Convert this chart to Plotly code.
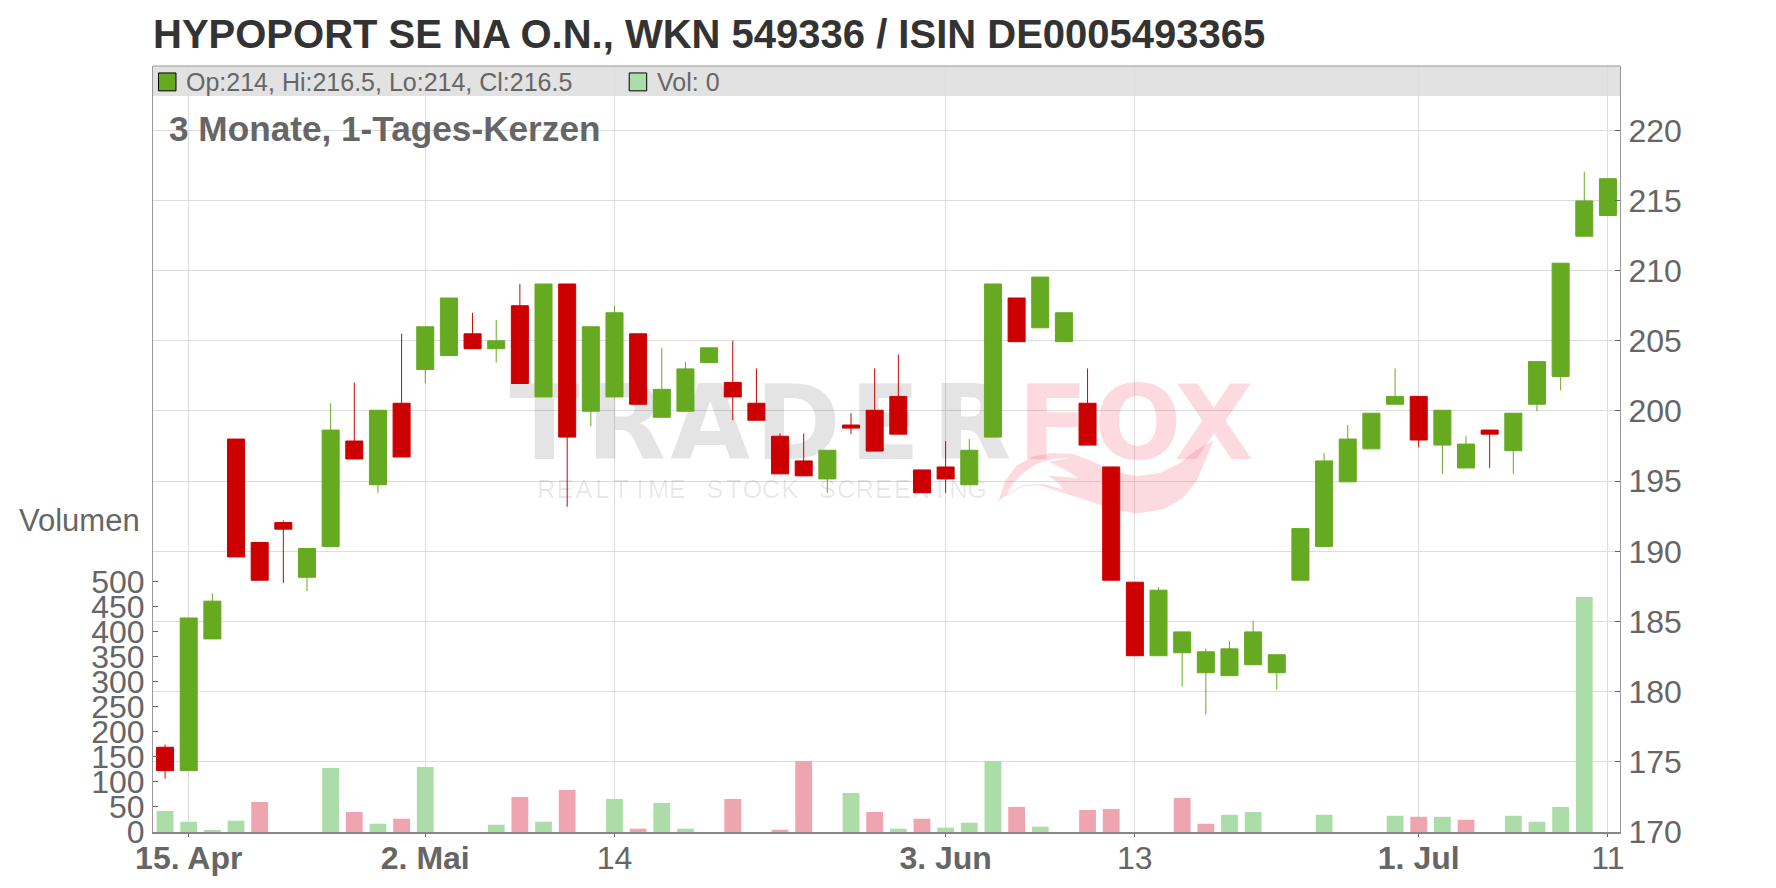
import plotly.graph_objects as go

W, H = 1776, 888
L, R, T, B = 152.5, 1620.4, 65.5, 836.2

opens  = [176.04,174.37,183.76,198.0,190.63,192.05,188.15,190.35,197.86,194.74,200.55,202.96,203.95,205.5,204.44,207.5,201.0,209.05,199.98,201.0,205.5,199.55,199.98,203.45,202.03,200.55,198.2,196.44,195.16,199.0,200.05,201.04,195.8,196.01,194.74,198.14,208.05,205.93,204.94,200.55,196.01,187.8,182.56,182.77,181.35,181.14,181.92,181.35,187.94,190.35,194.95,197.3,200.48,201.04,197.57,195.94,198.64,197.17,200.48,202.46,212.45,213.93]
highs  = [176.23,185.25,187.0,198.0,190.63,192.2,190.2,200.55,202.03,200.05,205.5,206.0,208.05,207.0,206.5,209.05,209.05,209.05,206.0,207.5,205.5,204.5,203.5,204.5,205.0,203.03,198.4,198.4,197.2,199.84,203.03,204.02,195.8,197.86,198.0,209.05,208.05,209.54,207.0,203.03,196.01,187.8,187.44,184.26,183.05,183.62,185.04,182.63,191.62,197.0,199.0,199.84,203.03,201.04,200.05,198.2,198.64,199.84,203.52,210.53,217.05,216.55]
lows   = [173.8,174.37,183.76,189.6,187.94,187.73,187.16,190.35,196.58,194.17,196.72,201.96,203.95,204.44,203.45,201.96,201.0,193.18,198.9,201.0,200.48,199.55,199.98,203.45,199.34,199.34,195.52,195.38,194.17,198.35,197.14,198.35,194.17,194.17,194.74,198.14,204.94,205.93,204.94,197.57,187.94,182.56,182.56,180.36,178.38,181.14,181.92,180.15,187.94,190.35,194.95,197.3,200.48,197.4,195.52,195.94,195.94,195.52,199.98,201.47,212.45,213.93]
closes = [174.37,185.25,186.45,189.6,187.94,191.58,190.2,198.64,196.58,200.05,196.72,206.0,208.05,204.44,205.0,201.96,209.05,198.14,206.0,207.0,200.48,201.54,203.0,204.5,201.0,199.34,195.52,195.38,197.2,198.78,197.14,198.35,194.17,195.16,197.2,209.05,204.94,209.54,207.0,197.57,187.94,182.56,187.23,184.26,182.84,183.05,184.26,182.63,191.62,196.44,198.0,199.84,201.04,197.93,200.05,197.64,198.35,199.84,203.52,210.53,214.97,216.55]
volumes = [42,20.5,2.6,22.5,60,0,0,127.6,40,16.5,26.5,129.6,0,0,14.5,70,20.5,84,0,66,6.6,58,6.6,0,66,0,4.6,141.5,0,78,40,6.6,26.5,8.6,18.5,141.5,50,10.6,0,44,46,0,0,68,16.5,34.4,40,0,0,34.4,0,0,32.4,30.4,30.4,24.5,0,32.4,20.5,50,469,0]
volume_up = [1,1,1,1,0,0,0,1,0,1,0,1,0,0,1,0,1,0,0,1,0,1,1,0,0,0,0,0,0,1,0,1,0,1,1,1,0,1,0,0,0,0,0,0,0,1,1,0,0,1,0,0,1,0,1,0,0,1,1,1,1,0]

x_tick_positions = [1, 11, 19, 33, 41, 53, 61]
x_tick_labels = ["<b>15. Apr</b>", "<b>2. Mai</b>", "14", "<b>3. Jun</b>", "13", "<b>1. Jul</b>", "11"]
price_ticks = [170,175,180,185,190,195,200,205,210,215,220]
volume_ticks = [0,50,100,150,200,250,300,350,400,450,500]

GREEN, RED = "#66AA22", "#CC0000"
VGREEN, VRED = "#ACDDA9", "#EFA5AF"
GRID, TXT = "#DDDDDD", "#666666"

X_RANGE = [-0.51, 61.51]
P_RANGE = [170, 170 + (B - T) / 14.12]
V_RANGE = [0, (B - T) / 0.504]

def px2x(px):
    return X_RANGE[0] + (px - L) / (R - L) * (X_RANGE[1] - X_RANGE[0])
def py2p(py):
    return P_RANGE[0] + (B - py) / (B - T) * (P_RANGE[1] - P_RANGE[0])
def fx(px):
    return (px - L) / (R - L)
def fy(py):
    return (B - py) / (B - T)

fig = go.Figure()

# --- watermark (bottom subplot) ---
WM_GRAY = "rgba(0,0,0,0.105)"
WM_PINK = "rgba(245,70,100,0.2)"
def wm_letters(chars, centers, y, size, color, family, bold=False):
    fig.add_trace(go.Scatter(
        x=[px2x(c) for c in centers], y=[py2p(y)] * len(chars),
        text=[f"<b>{c}</b>" if bold else c for c in chars],
        mode="text", textposition="middle center", hoverinfo="skip", showlegend=False,
        textfont=dict(family=family, size=size, color=color),
        cliponaxis=False, xaxis="x", yaxis="y"))

wm_letters("TRADER", [544, 626, 710, 798, 885, 972], 435, 103, WM_GRAY, "DejaVu Sans, sans-serif", True)
wm_letters("FOX", [1053, 1138, 1214], 435, 103, WM_PINK, "DejaVu Sans, sans-serif", True)
tag = "REALTIME STOCK SCREENING"
wm_letters(tag, [546 + i * 18.75 for i in range(len(tag))], 494, 25, "rgba(0,0,0,0.09)", "Liberation Sans, sans-serif")

outer = [(55,370),(75,310),(110,262),(160,235),(215,225),(280,228),(340,250),(400,280),(470,295),(540,285),(600,255),(650,215),(700,187),
         (680,240),(650,310),(610,360),(550,395),(470,407),(400,395),(330,370),(250,345),(180,322),(130,325),(75,355)]
hole = [(80,350),(100,315),(130,285),(170,258),(215,243),(275,238),(208,252),(250,272),(295,300),(240,295),(205,293),(235,315),(250,335),(190,318),(130,321)]
hole = hole[::-1]
lx = [px2x(980 + a / 3) for a, _ in outer] + [px2x(980 + outer[0][0] / 3), None] + [px2x(980 + a / 3) for a, _ in hole] + [px2x(980 + hole[0][0] / 3)]
ly = [py2p(380 + b / 3) for _, b in outer] + [py2p(380 + outer[0][1] / 3), None] + [py2p(380 + b / 3) for _, b in hole] + [py2p(380 + hole[0][1] / 3)]
fig.add_trace(go.Scatter(x=lx, y=ly, mode="lines", fill="toself", fillcolor=WM_PINK, line=dict(width=0),
                         hoverinfo="skip", showlegend=False, xaxis="x", yaxis="y"))

# --- volume ---
idx = list(range(len(opens)))
fig.add_trace(go.Bar(x=idx, y=volumes, width=0.71, marker=dict(color=[VGREEN if u else VRED for u in volume_up], line=dict(width=0)),
                     showlegend=False, xaxis="x", yaxis="y2"))

# --- price ---
fig.add_trace(go.Candlestick(x=idx, open=opens, high=highs, low=lows, close=closes, whiskerwidth=0,
                             increasing=dict(line=dict(color=GREEN, width=1), fillcolor=GREEN),
                             decreasing=dict(line=dict(color=RED, width=1), fillcolor=RED),
                             showlegend=False, xaxis="x", yaxis="y3"))

def note(text, x, y, size, color, anchor="left"):
    return dict(text=text, xref="paper", yref="paper", x=fx(x), y=fy(y), xanchor=anchor, yanchor="middle",
                showarrow=False, font=dict(family="Liberation Sans, Arial, sans-serif", size=size, color=color))

annotations = [
    note("<b>HYPOPORT SE NA O.N., WKN 549336 / ISIN DE0005493365</b>", 150, 33, 40, "#333333"),
    note("<b>3 Monate, 1-Tages-Kerzen</b>", 167, 128, 35.2, TXT),
    note("Op:214, Hi:216.5, Lo:214, Cl:216.5", 183.5, 81.5, 25, TXT),
    note("Vol: 0", 654.5, 81.5, 25, TXT),
    note("Volumen", 16.5, 523, 31, TXT),
]

def rect(x0, y0, x1, y1, **kw):
    return dict(type="rect", xref="paper", yref="paper", x0=fx(x0), x1=fx(x1), y0=fy(y0), y1=fy(y1), **kw)

shapes = [
    rect(L, T, R, 95.7, layer="below", fillcolor="#E2E2E2", line=dict(width=0)),
    dict(type="line", xref="paper", yref="paper", x0=0, x1=1, y0=1, y1=1, line=dict(color="#999999", width=1)),
    rect(158, 72.5, 175.5, 90.5, fillcolor=GREEN, line=dict(color="#000000", width=1)),
    rect(629, 72.5, 646.5, 90.5, fillcolor=VGREEN, line=dict(color="#000000", width=1)),
]

tickfont = dict(family="Liberation Sans, Arial, sans-serif", size=32, color=TXT)
fig.update_layout(
    width=W, height=H, autosize=False,
    margin=dict(l=L, r=W - R, t=T, b=H - B, pad=0),
    paper_bgcolor="white", plot_bgcolor="white",
    boxgap=0.28, boxgroupgap=0, barmode="overlay", showlegend=False,
    annotations=annotations, shapes=shapes,
    xaxis=dict(range=X_RANGE, tickmode="array", tickvals=x_tick_positions, ticktext=x_tick_labels,
               showgrid=True, gridcolor=GRID, gridwidth=1, zeroline=False, rangeslider=dict(visible=False),
               showline=True, linecolor="#888888", linewidth=2, ticks="outside", ticklen=3, tickcolor="#666666",
               tickfont=tickfont, tickangle=0, anchor="y", ticklabelstandoff=-6),
    yaxis=dict(range=P_RANGE, domain=[0, 1], showgrid=False, zeroline=False, showticklabels=False, ticks="", showline=False),
    yaxis2=dict(range=V_RANGE, overlaying="y", side="left", anchor="x", tickmode="array", tickvals=volume_ticks,
                showgrid=False, zeroline=False, showline=True, linecolor="#999999", linewidth=1,
                ticks="inside", ticklen=5, tickcolor="#666666", tickfont=tickfont, ticklabelstandoff=1),
    yaxis3=dict(range=P_RANGE, overlaying="y", side="right", anchor="x", tickmode="array", tickvals=price_ticks,
                showgrid=True, gridcolor=GRID, gridwidth=1, zeroline=False, showline=True, linecolor="#999999", linewidth=1,
                ticks="inside", ticklen=5, tickcolor="#666666", tickfont=tickfont, ticklabelstandoff=1),
)

fig.write_html("out.html", config=dict(displayModeBar=False),
               post_script="document.body.style.margin='0';document.documentElement.style.overflow='hidden';")
